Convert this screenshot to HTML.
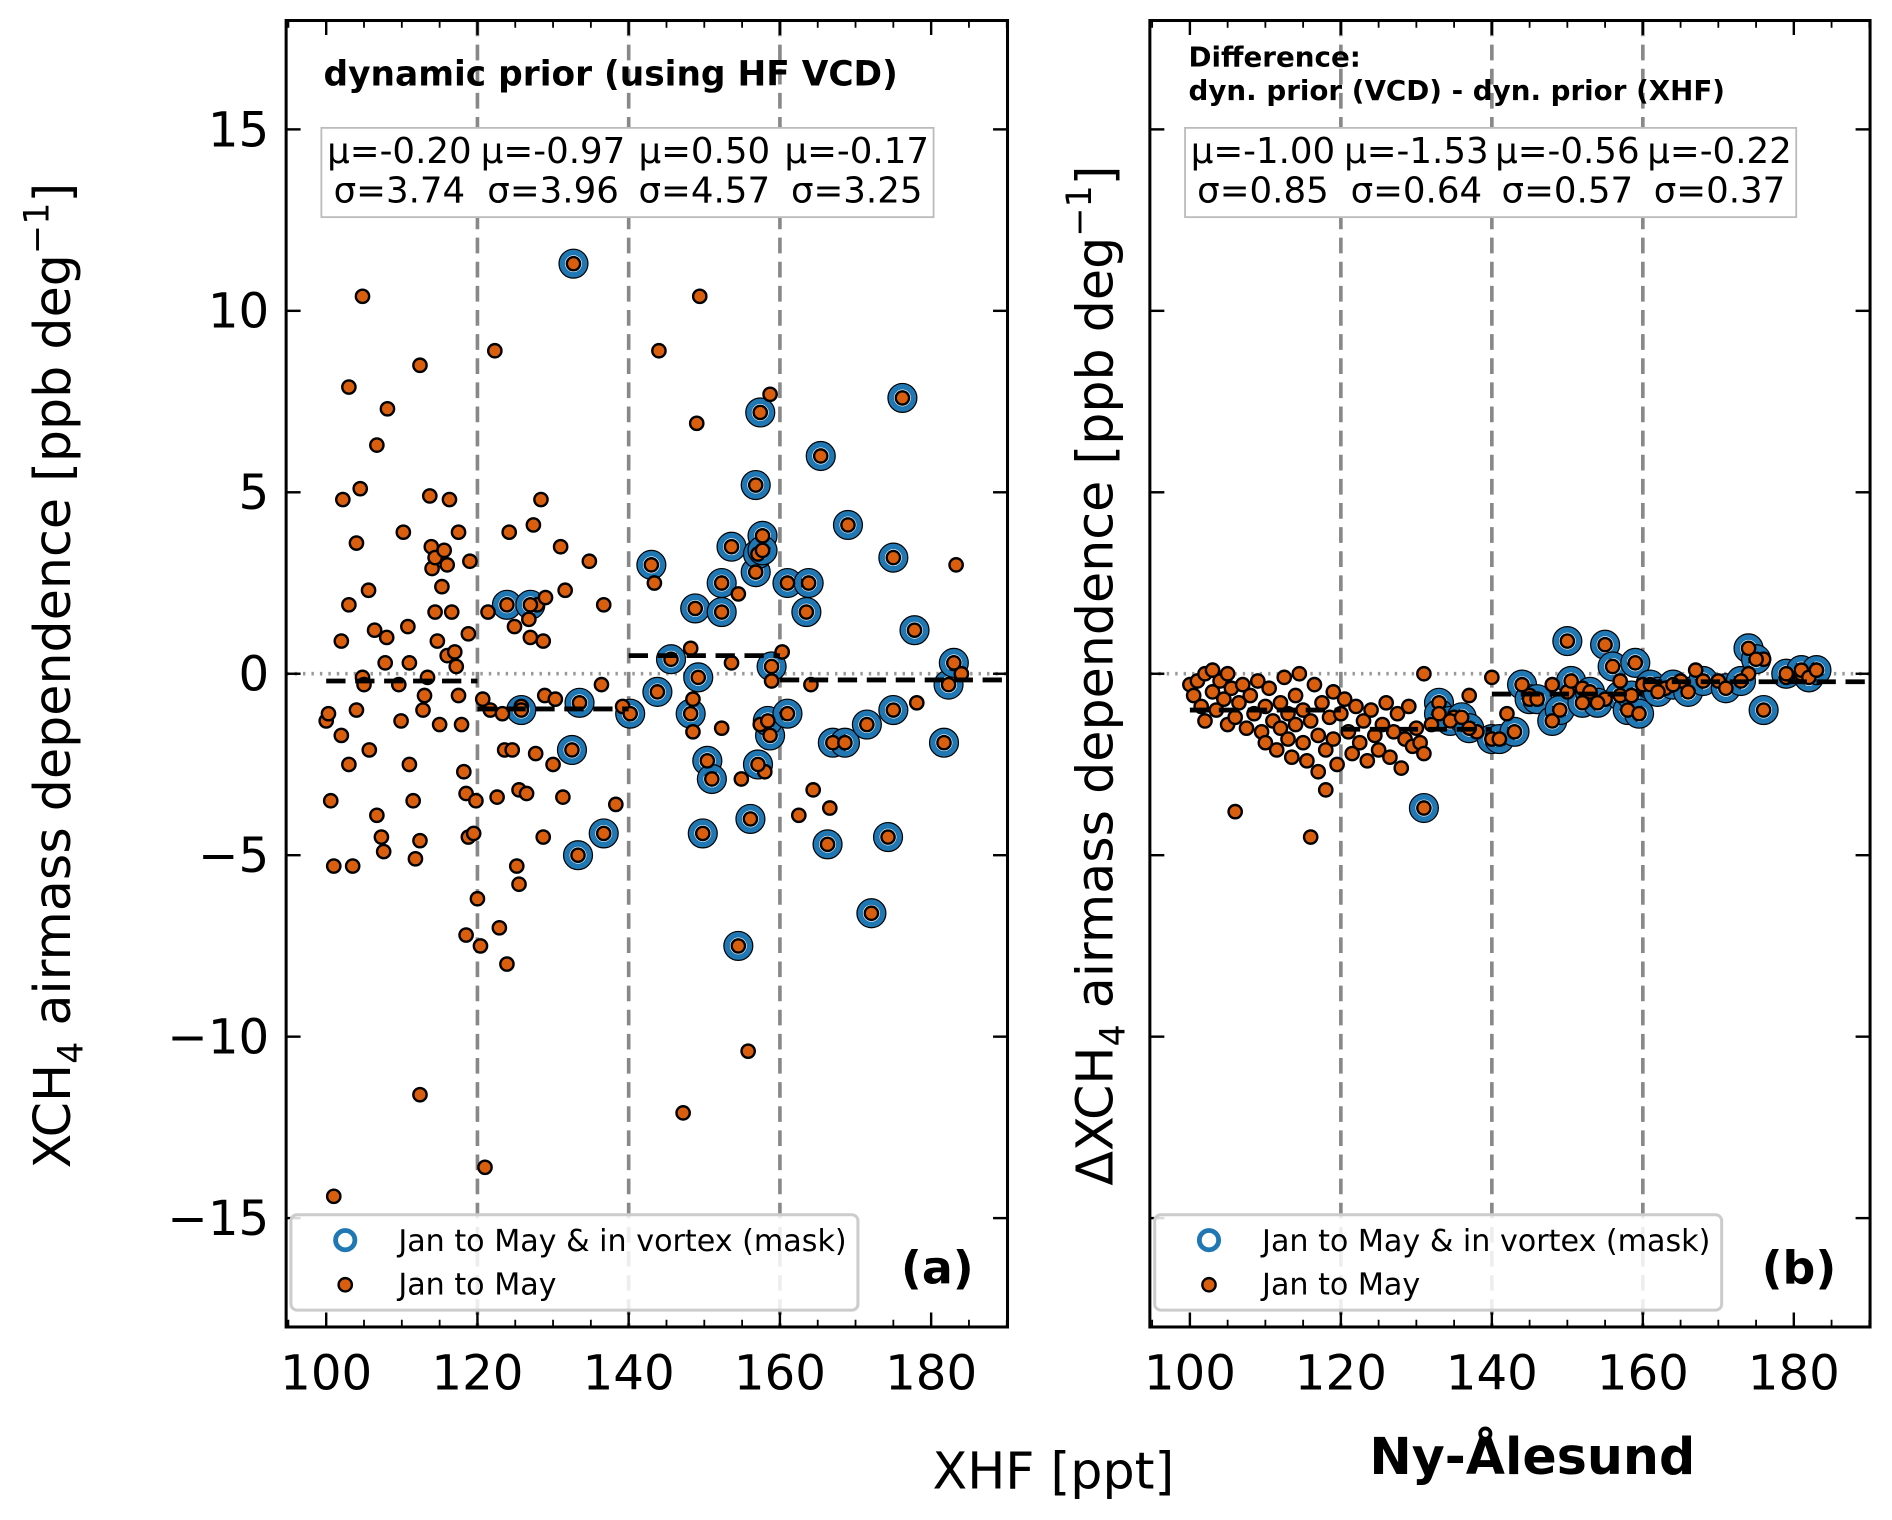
<!DOCTYPE html>
<html><head><meta charset="utf-8"><style>
html,body{margin:0;padding:0;background:#fff}
svg{display:block;font-family:"DejaVu Sans","Liberation Sans",sans-serif}
</style></head><body>
<svg id="fig" width="1892" height="1520" viewBox="0 0 1568 1260" xmlns="http://www.w3.org/2000/svg">
<g id="pa"></g>
<g id="pb"></g>
<text transform="translate(58,560) rotate(-90)" text-anchor="middle" font-size="42">XCH<tspan font-size="29" dy="10">4</tspan><tspan dy="-10"> airmass dependence [ppb deg</tspan><tspan font-size="29" dy="-18">−1</tspan><tspan dy="18">]</tspan></text>
<text transform="translate(922,560) rotate(-90)" text-anchor="middle" font-size="42">ΔXCH<tspan font-size="29" dy="10">4</tspan><tspan dy="-10"> airmass dependence [ppb deg</tspan><tspan font-size="29" dy="-18">−1</tspan><tspan dy="18">]</tspan></text>
<text x="873" y="1234" text-anchor="middle" font-size="42">XHF [ppt]</text>
<text x="1270" y="1222" text-anchor="middle" font-size="42" font-weight="bold">Ny-Ålesund</text>
</svg>
<script>
const xTicks=[100,120,140,160,180];
const yTicks=[-15,-10,-5,0,5,10,15];
const binEdges=[100,120,140,160,190];
const meansA=[-0.20,-0.97,0.50,-0.17];
const sigmasA=[3.74,3.96,4.57,3.25];
const meansB=[-1.00,-1.53,-0.56,-0.22];
const sigmasB=[0.85,0.64,0.57,0.37];
const orangeA=[[101,-14.4],[100,-1.3],[100.3,-1.1],[100.6,-3.5],[101,-5.3],[102,-1.7],[102,0.9],[102.2,4.8],[103,7.9],[103,1.9],[103,-2.5],[103.5,-5.3],[104,-1],[104,3.6],[104.5,5.1],[104.8,-0.1],[105,-0.3],[104.8,10.4],[105.6,2.3],[105.7,-2.1],[106.4,1.2],[106.7,6.3],[106.7,-3.9],[107.3,-4.5],[107.6,-4.9],[108,1],[108.1,7.3],[107.8,0.3],[109.6,-0.3],[109.9,-1.3],[110.2,3.9],[110.8,1.3],[111,0.3],[111,-2.5],[111.5,-3.5],[111.8,-5.1],[112.4,8.5],[112.4,-11.6],[112.4,-4.6],[112.8,-1],[113,-0.6],[113.4,-0.1],[113.7,4.9],[113.9,3.5],[114,2.9],[114.4,3.2],[114.4,1.7],[114.7,0.9],[115,-1.4],[115.3,2.4],[115.6,3.4],[116,3],[116,0.5],[116.3,4.8],[116.6,1.7],[117,0.6],[117.2,0.2],[117.5,3.9],[117.5,-0.6],[117.9,-1.4],[118.2,-2.7],[118.5,-3.3],[118.5,-7.2],[118.8,-4.5],[118.8,1.1],[119,3.1],[119.5,-4.4],[119.8,-3.5],[120,-6.2],[120.4,-7.5],[120.7,-0.7],[121,-13.6],[121.4,1.7],[121.7,-1],[122.3,8.9],[122.6,-3.4],[122.9,-7],[123.3,-1.1],[123.6,-2.1],[123.9,-8],[124.2,3.9],[124.6,-2.1],[124.9,1.3],[125.2,-5.3],[125.5,-5.8],[125.5,-3.2],[125.8,-0.9],[126.5,-3.3],[126.8,1.5],[127,1],[127.4,4.1],[127.7,-2.2],[127.9,1.9],[128.4,4.8],[128.7,0.9],[128.9,-0.6],[128.7,-4.5],[129,2.1],[130,-2.5],[130.3,-0.7],[131,3.5],[131.3,-3.4],[131.6,2.3],[134.8,3.1],[136.7,1.9],[138.3,-3.6],[139.2,-0.9],[136.4,-0.3],[143.4,2.5],[144,8.9],[147.2,-12.1],[148.2,0.7],[148.5,-0.7],[149,6.9],[149.4,10.4],[148.5,-1.6],[152.3,-1.5],[153.6,0.3],[154.5,2.2],[154.9,-2.9],[155.8,-10.4],[157.4,-1.4],[158,-2.7],[158.7,7.7],[158.9,-0.2],[160.3,0.6],[162.5,-3.9],[164.1,-0.3],[164.4,-3.2],[166.6,-3.7],[178.1,-0.8],[183.3,3],[184,0]];
const blueA=[[132.7,11.3],[123.9,1.9],[127,1.9],[125.8,-1],[132.5,-2.1],[133.3,-5],[133.5,-0.8],[136.7,-4.4],[140.2,-1.1],[143,3],[143.8,-0.5],[145.6,0.4],[148.2,-1.1],[148.8,1.8],[149.2,-0.1],[149.8,-4.4],[150.4,-2.4],[151,-2.9],[152.3,2.5],[152.3,1.7],[153.6,3.5],[156.1,-4],[154.5,-7.5],[156.8,5.2],[156.8,2.8],[157.1,-2.5],[157.1,3.3],[157.4,7.2],[157.7,3.8],[157.7,3.4],[158.7,-1.7],[158.9,0.2],[158.4,-1.3],[161,-1.1],[161,2.5],[163.5,1.7],[163.8,2.5],[165.4,6],[166.3,-4.7],[167,-1.9],[168.6,-1.9],[169,4.1],[171.5,-1.4],[172.1,-6.6],[174.3,-4.5],[175,-1],[175,3.2],[176.2,7.6],[177.8,1.2],[181.7,-1.9],[182.3,-0.3],[183,0.3]];
const orangeB=[[100,-0.3],[100.5,-0.6],[101,-0.2],[101.5,-0.9],[102,-1.3],[102,0],[103,-0.5],[103,0.1],[103.5,-1],[104,-0.2],[104.5,-0.7],[105,-1.4],[105,0],[105.5,-0.4],[106,-3.8],[106,-1.2],[106.5,-0.8],[107,-0.3],[107.5,-1.5],[108,-0.6],[108.5,-1.1],[109,-0.2],[109.5,-1.6],[110,-0.9],[110,-1.9],[110.5,-0.4],[111,-1.3],[111.5,-2.1],[112,-0.8],[112,-1.5],[112.5,-0.1],[113,-1.8],[113,-1.1],[113.5,-2.3],[114,-0.6],[114,-1.4],[114.5,0],[115,-1.9],[115,-1],[115.5,-2.4],[116,-1.3],[116,-4.5],[116.5,-0.3],[117,-1.7],[117,-2.7],[117.5,-0.8],[118,-2.1],[118,-3.2],[118.5,-1.2],[119,-0.5],[119,-1.8],[119.5,-2.5],[120,-1.1],[120.5,-0.7],[121,-1.6],[121.5,-2.2],[122,-0.9],[122.5,-1.9],[123,-1.3],[123.5,-2.4],[124,-1],[124.5,-1.7],[125,-2.1],[125.5,-1.4],[126,-0.8],[126.5,-2.3],[127,-1.6],[127.5,-1.1],[128,-2.6],[128.5,-1.8],[129,-0.9],[129.5,-2],[130,-1.5],[130.5,-1.9],[131,-2.2],[131,0],[132,-1.4],[135,-1.2],[137,-0.6],[138,-1.6],[140,-0.1],[142,-1.1],[145,-0.6],[148,-0.3],[150,-0.5],[152,-0.4],[155,-0.7],[157,-0.2],[160,-0.3],[163,-0.4],[165,-0.2],[167,0.1],[170,-0.2],[174,0],[176,0.4],[179,-0.1],[181,0],[183,0.1]];
const blueB=[[131,-3.7],[133,-0.8],[133,-1.1],[134.5,-1.3],[136,-1.2],[137,-1.5],[140,-1.8],[141,-1.8],[143,-1.6],[144,-0.3],[145,-0.7],[146,-0.7],[148,-1.3],[149,-1],[150,0.9],[150.5,-0.2],[152,-0.8],[153,-0.5],[154,-0.8],[155,0.8],[156,0.2],[157,-0.6],[158,-1],[158.5,-0.6],[159,0.3],[159.5,-1.1],[161,-0.3],[162,-0.5],[164,-0.3],[166,-0.5],[168,-0.2],[171,-0.4],[173,-0.2],[174,0.7],[175,0.4],[176,-1],[179,0],[181,0.1],[182,-0.1],[183,0.1]];

const NS='http://www.w3.org/2000/svg';
function mk(parent,tag,attrs,text){const e=document.createElementNS(NS,tag);for(const k in attrs)e.setAttribute(k,attrs[k]);if(text!==undefined)e.textContent=text;parent.appendChild(e);return e;}
const X0=94.7,X1=190.1,Y0=-18,Y1=18,PT=17,PB=1100;
function panel(g,left,right,orange,blue,means,sigmas,title,tag){
  const sx=v=>left+(v-X0)/(X1-X0)*(right-left);
  const sy=v=>PB-(v-Y0)/(Y1-Y0)*(PB-PT);
  let e=mk(g,'line',{x1:left,x2:right,y1:sy(0),y2:sy(0),stroke:'#999','stroke-width':3,'stroke-dasharray':'2,5'});
  
  for(let i=1;i<binEdges.length-1;i++){
    e=mk(g,'line',{x1:sx(binEdges[i]),x2:sx(binEdges[i]),y1:PT,y2:PB,stroke:'#888','stroke-width':3,'stroke-dasharray':'13,7'});
    
  }
  for(const p of blue){
    e=mk(g,'circle',{cx:sx(p[0]),cy:sy(p[1]),r:9.5,fill:'none',stroke:'#1f77b4','stroke-width':5});
    
    e=mk(g,'circle',{cx:sx(p[0]),cy:sy(p[1]),r:12,fill:'none',stroke:'#000','stroke-width':1});
    
  }
  for(const p of orange.concat(blue)){
    e=mk(g,'circle',{cx:sx(p[0]),cy:sy(p[1]),r:5.5,fill:'#d95f0e',stroke:'#000','stroke-width':2});
    
  }
  for(let i=0;i<means.length;i++){
    const xa=sx(binEdges[i]),xb=Math.min(sx(binEdges[i+1]),right);
    e=mk(g,'line',{x1:xa,x2:xb,y1:sy(means[i]),y2:sy(means[i]),stroke:'#000','stroke-width':4,'stroke-dasharray':'16,8'});
    
  }
  const bx0=sx(binEdges[0])-4;
  e=mk(g,'rect',{x:bx0,y:106,width:sx(180)+2-bx0,height:74,fill:'#fff',stroke:'#bbb','stroke-width':1.5});
  
  for(let i=0;i<means.length;i++){
    const a=i==0?bx0:sx(binEdges[i]),b=i==3?sx(180)+2:sx(binEdges[i+1]);const cx=(a+b)/2;
    e=mk(g,'text',{x:cx,y:135,'text-anchor':'middle','font-size':29.5},'μ='+means[i].toFixed(2));
    
    e=mk(g,'text',{x:cx,y:168,'text-anchor':'middle','font-size':29.5},'σ='+sigmas[i].toFixed(2));
    
  }
  e=mk(g,'rect',{x:left,y:PT,width:right-left,height:PB-PT,fill:'none',stroke:'#000','stroke-width':2.5});
  
  for(const t of xTicks){
    mk(g,'line',{x1:sx(t),x2:sx(t),y1:PB,y2:PB-12,stroke:'#000','stroke-width':2});
    mk(g,'line',{x1:sx(t),x2:sx(t),y1:PT,y2:PT+12,stroke:'#000','stroke-width':2});
    e=mk(g,'text',{x:sx(t),y:1152,'text-anchor':'middle','font-size':40},String(t));
    
  }
  for(let t=95;t<=190;t+=5){if(t%20){mk(g,'line',{x1:sx(t),x2:sx(t),y1:PB,y2:PB-6,stroke:'#000','stroke-width':1.5});mk(g,'line',{x1:sx(t),x2:sx(t),y1:PT,y2:PT+6,stroke:'#000','stroke-width':1.5});}}
  for(const t of yTicks){
    mk(g,'line',{x1:left,x2:left+12,y1:sy(t),y2:sy(t),stroke:'#000','stroke-width':2});
    mk(g,'line',{x1:right,x2:right-12,y1:sy(t),y2:sy(t),stroke:'#000','stroke-width':2});
    if(tag==='(a)'){
      e=mk(g,'text',{x:left-14,y:sy(t)+14,'text-anchor':'end','font-size':40},(t<0?'−':'')+Math.abs(t));
      
    }
  }
  for(const tl of title){
    e=mk(g,'text',{x:tl[0],y:tl[1],'font-size':tl[2],'font-weight':'bold'},tl[3]);
    
  }
  e=mk(g,'rect',{x:left+4,y:1007,width:470,height:79,rx:5,fill:'#fff','fill-opacity':0.85,stroke:'#ccc','stroke-width':2.5});
  
  mk(g,'circle',{cx:left+49,cy:1028,r:8,fill:'none',stroke:'#1f77b4','stroke-width':4});
  mk(g,'circle',{cx:left+49,cy:1065,r:5.5,fill:'#d95f0e',stroke:'#000','stroke-width':2});
  e=mk(g,'text',{x:left+93,y:1037,'font-size':25},'Jan to May & in vortex (mask)');
  
  e=mk(g,'text',{x:left+93,y:1073,'font-size':25},'Jan to May');
  
  e=mk(g,'text',{x:right-28,y:1064,'text-anchor':'end','font-size':38,'font-weight':'bold'},tag);
  
}
panel(document.getElementById('pa'),237,835,orangeA,blueA,meansA,sigmasA,[[268,71,28.5,'dynamic prior (using HF VCD)']],'(a)');
panel(document.getElementById('pb'),953,1550,orangeB,blueB,meansB,sigmasB,[[985,55,23,'Difference:'],[985,83,23,'dyn. prior (VCD) - dyn. prior (XHF)']],'(b)');
</script>
</body></html>
